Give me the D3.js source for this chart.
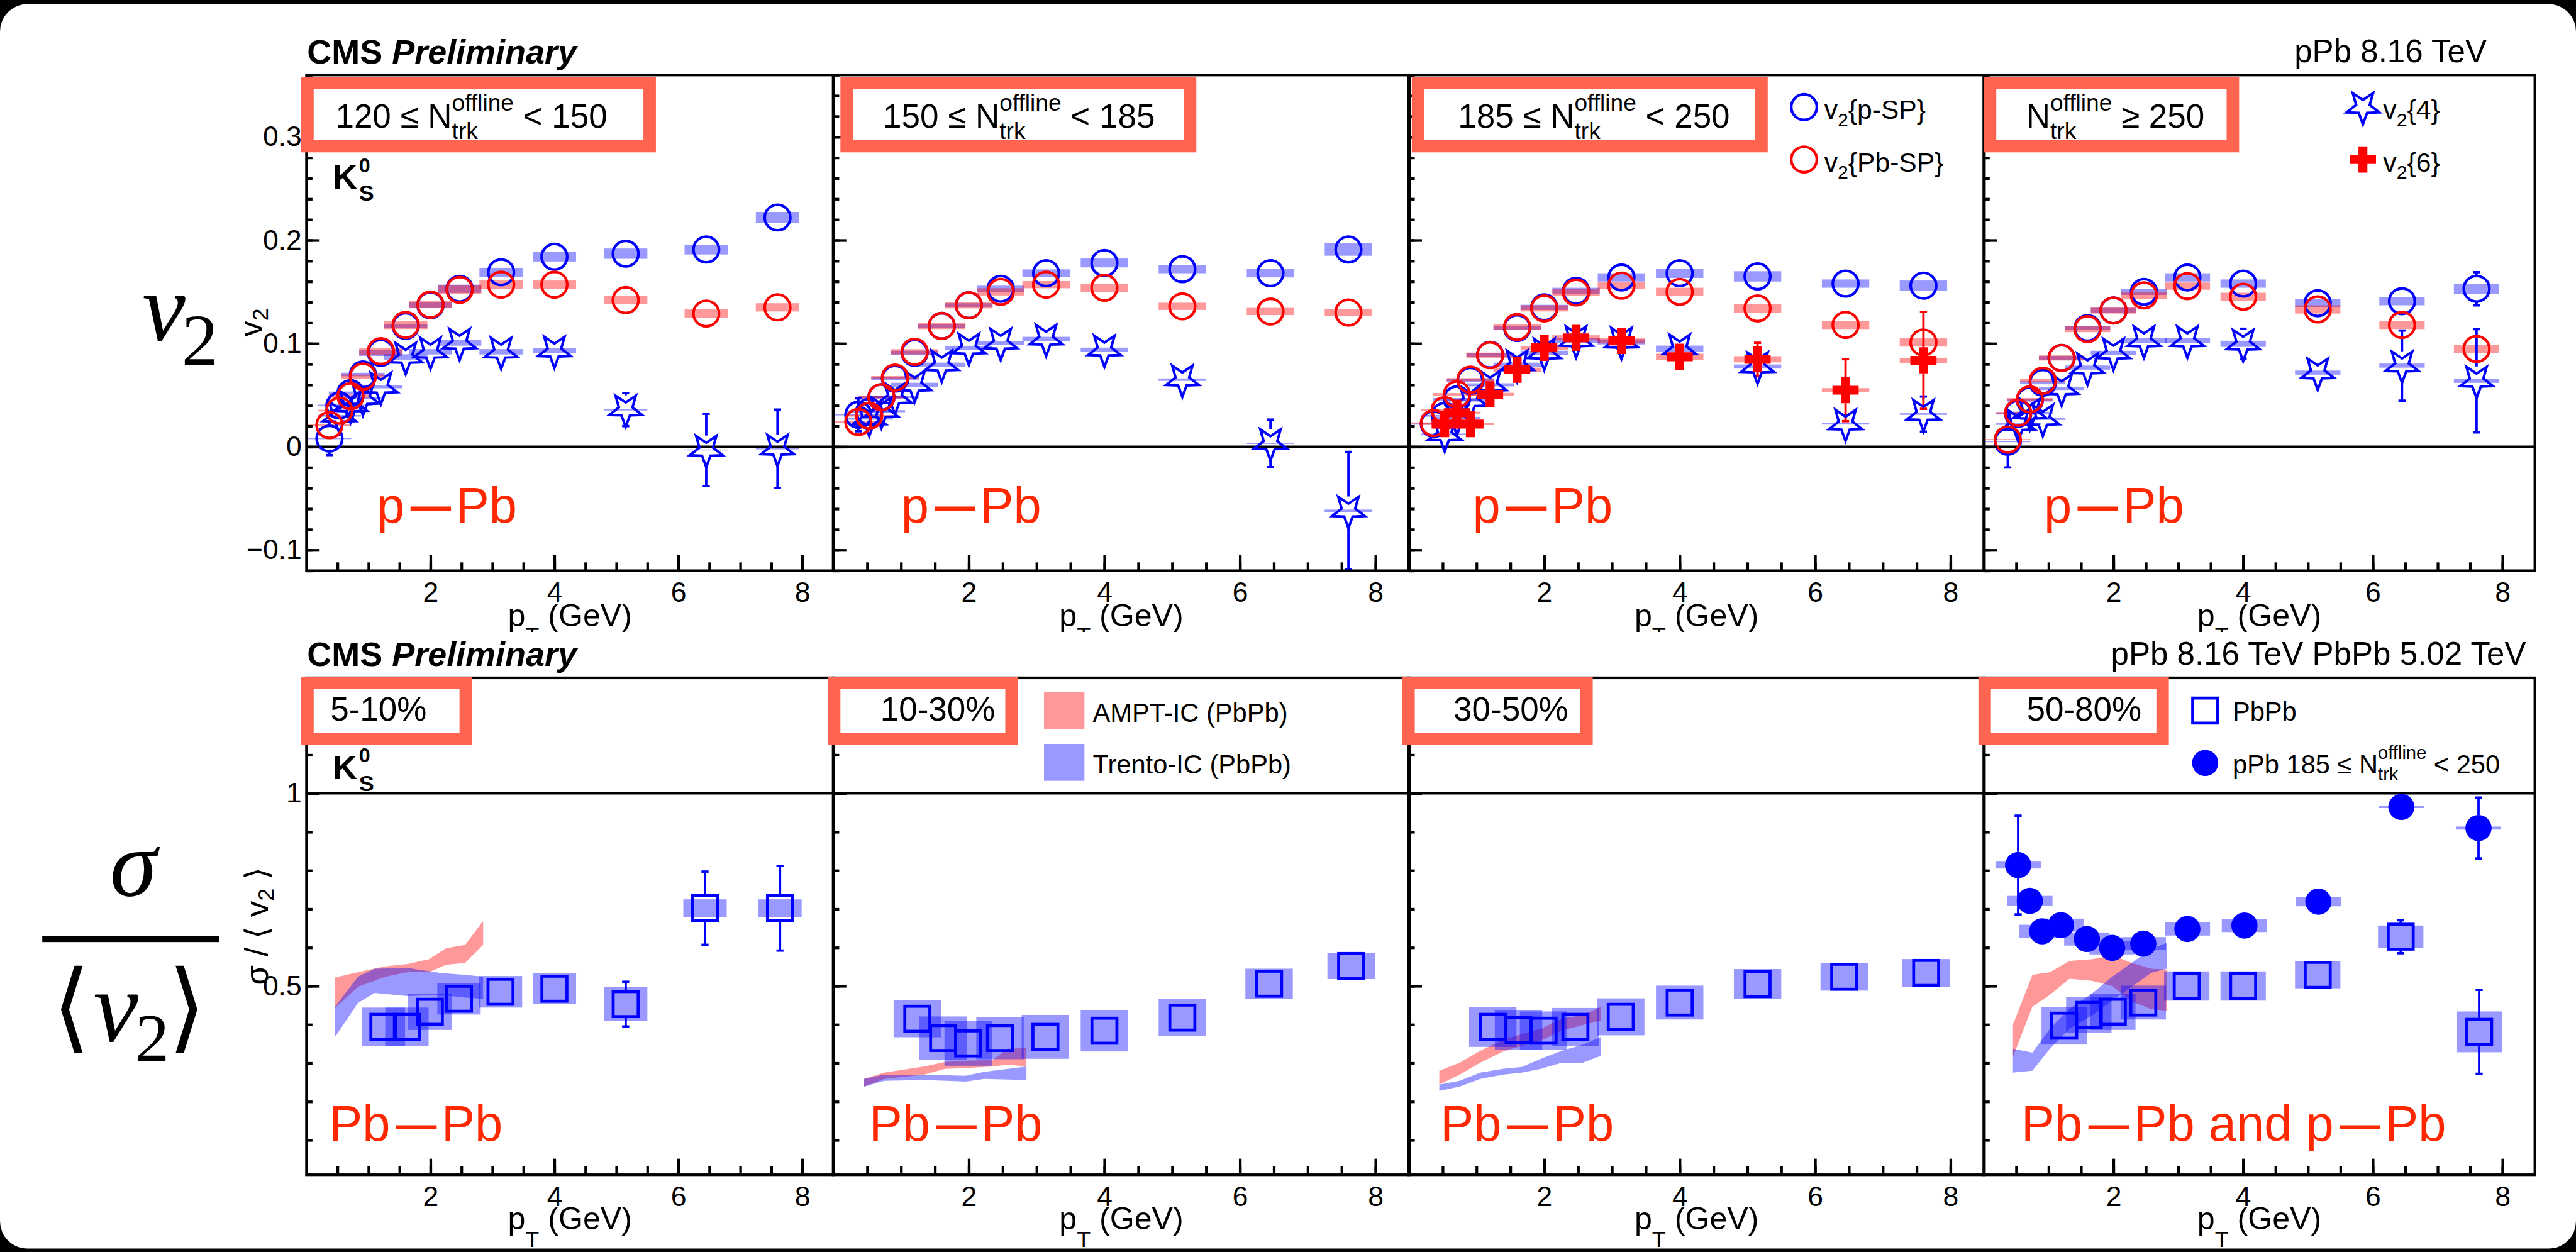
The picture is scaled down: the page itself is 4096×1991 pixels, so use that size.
<!DOCTYPE html>
<html>
<head>
<meta charset="utf-8">
<script src="https://cdn.jsdelivr.net/npm/d3@7"></script>
<style>
  html, body { margin: 0; padding: 0; background: #000; overflow: hidden; }
  svg { display: block; }
  text { white-space: pre; }
</style>
</head>
<body>
<script>
// ---------------- data ----------------
// pT bin centres (GeV), pPb v2 measurements
const ptPPb = [0.37, 0.53, 0.71, 0.91, 1.2, 1.6, 2.0, 2.47, 3.14, 4.0, 5.15, 6.45, 7.6];

// 120 <= Ntrk < 150
const v2pSP_120      = [0.008, 0.040, 0.052, 0.070, 0.091, 0.117, 0.137, 0.153, 0.169, 0.184, 0.187, 0.191, 0.222];
const v2pSP_120_stat = [0.016, 0.004, 0.003, 0.002, 0.002, 0.002, 0.002, 0.002, 0.002, 0.003, 0.004, 0.006, 0.008];
const v2pSP_120_sys  = [0.0006, 0.0008, 0.0015, 0.0017, 0.003, 0.002, 0.0027, 0.004, 0.0043, 0.0046, 0.005, 0.0048, 0.0054];
const v2PbSP_120      = [0.021, 0.035, 0.049, 0.068, 0.0925, 0.118, 0.1376, 0.152, 0.157, 0.157, 0.142, 0.129, 0.135];
const v2PbSP_120_stat = [0.004, 0.003, 0.002, 0.002, 0.002, 0.002, 0.002, 0.002, 0.002, 0.003, 0.004, 0.006, 0.008];
const v2PbSP_120_sys  = [0.0006, 0.0008, 0.0015, 0.002, 0.0033, 0.004, 0.0034, 0.0043, 0.004, 0.004, 0.004, 0.004, 0.004];
const v24_120      = [null, 0.030, 0.040, 0.047, 0.058, 0.087, 0.092, 0.1006, 0.092, 0.093, 0.036, -0.003, -0.002];
const v24_120_stat = [null, 0.004, 0.004, 0.004, 0.004, 0.004, 0.004, 0.005, 0.006, 0.008, 0.016, 0.035, 0.038];
const v24_120_sys  = [null, 0.0008, 0.0008, 0.001, 0.0014, 0.0026, 0.0026, 0.0027, 0.0026, 0.0025, 0.0008, 0.0004, 0.0004];

// 150 <= Ntrk < 185
const v2pSP_150      = [0.031, 0.034, 0.048, 0.066, 0.091, 0.117, 0.137, 0.153, 0.168, 0.178, 0.172, 0.168, 0.191];
const v2pSP_150_stat = [0.016, 0.004, 0.003, 0.002, 0.002, 0.002, 0.002, 0.002, 0.002, 0.003, 0.004, 0.005, 0.007];
const v2pSP_150_sys  = [0.0006, 0.0008, 0.0012, 0.0015, 0.002, 0.002, 0.002, 0.003, 0.0038, 0.0043, 0.004, 0.004, 0.006];
const v2PbSP_150      = [0.024, 0.030, 0.048, 0.067, 0.092, 0.117, 0.137, 0.150, 0.157, 0.154, 0.136, 0.131, 0.130];
const v2PbSP_150_stat = [0.004, 0.003, 0.002, 0.002, 0.002, 0.002, 0.002, 0.002, 0.002, 0.003, 0.004, 0.005, 0.007];
const v2PbSP_150_sys  = [0.0006, 0.0008, 0.0012, 0.0015, 0.0025, 0.003, 0.003, 0.0035, 0.0035, 0.004, 0.0035, 0.0035, 0.0035];
const v24_150      = [null, 0.027, 0.0345, 0.048, 0.060, 0.0795, 0.0958, 0.1006, 0.1045, 0.094, 0.065, 0.0033, -0.062];
const v24_150_stat = [null, 0.004, 0.004, 0.004, 0.004, 0.004, 0.004, 0.005, 0.006, 0.007, 0.005, 0.023, 0.057];
const v24_150_sys  = [null, 0.0008, 0.001, 0.001, 0.002, 0.002, 0.002, 0.002, 0.002, 0.002, 0.0012, 0.0005, 0.0012];

// 185 <= Ntrk < 250
const v2pSP_185      = [0.022, 0.030, 0.046, 0.064, 0.089, 0.115, 0.135, 0.151, 0.164, 0.168, 0.165, 0.158, 0.156];
const v2pSP_185_stat = [0.004, 0.003, 0.002, 0.002, 0.002, 0.002, 0.002, 0.002, 0.002, 0.003, 0.004, 0.005, 0.006];
const v2pSP_185_sys  = [0.0006, 0.0008, 0.0012, 0.0015, 0.002, 0.002, 0.0025, 0.003, 0.004, 0.0045, 0.005, 0.004, 0.005];
const v2PbSP_185      = [0.023, 0.0355, 0.0508, 0.065, 0.0887, 0.116, 0.134, 0.1494, 0.156, 0.150, 0.134, 0.118, 0.101];
const v2PbSP_185_stat = [0.003, 0.003, 0.002, 0.002, 0.002, 0.002, 0.002, 0.002, 0.002, 0.003, 0.004, 0.005, 0.006];
const v2PbSP_185_sys  = [0.0006, 0.0008, 0.0012, 0.0015, 0.0025, 0.003, 0.003, 0.0035, 0.0035, 0.004, 0.004, 0.004, 0.004];
const v24_185      = [null, 0.012, 0.028, 0.045, 0.060, 0.0795, 0.091, 0.103, 0.1016, 0.095, 0.0777, 0.0223, 0.0317];
const v24_185_stat = [null, 0.005, 0.004, 0.004, 0.004, 0.004, 0.004, 0.004, 0.005, 0.006, 0.006, 0.013, 0.017];
const v24_185_sys  = [null, 0.0008, 0.001, 0.0012, 0.0015, 0.002, 0.002, 0.0025, 0.0025, 0.003, 0.002, 0.0008, 0.0008];
const v26_185      = [null, 0.022, 0.033, 0.022, 0.0508, 0.0747, 0.0958, 0.1055, 0.1025, 0.0872, 0.0847, 0.0548, 0.0837];
const v26_185_stat = [null, 0.006, 0.006, 0.006, 0.005, 0.005, 0.005, 0.005, 0.006, 0.008, 0.016, 0.030, 0.047];
const v26_185_sys  = [null, 0.0008, 0.001, 0.001, 0.0015, 0.002, 0.002, 0.0025, 0.0025, 0.003, 0.003, 0.002, 0.0025];

// Ntrk >= 250
const v2pSP_250      = [0.005, 0.032, 0.045, 0.062, 0.086, 0.115, 0.132, 0.150, 0.164, 0.158, 0.139, 0.141, 0.153];
const v2pSP_250_stat = [0.025, 0.004, 0.003, 0.002, 0.002, 0.002, 0.002, 0.002, 0.003, 0.004, 0.005, 0.007, 0.016];
const v2pSP_250_sys  = [0.0005, 0.0008, 0.0012, 0.0015, 0.002, 0.002, 0.0025, 0.003, 0.004, 0.004, 0.004, 0.004, 0.005];
const v2PbSP_250      = [0.007, 0.033, 0.046, 0.064, 0.086, 0.114, 0.132, 0.1466, 0.1556, 0.1452, 0.133, 0.118, 0.0947];
const v2PbSP_250_stat = [0.004, 0.003, 0.002, 0.002, 0.002, 0.002, 0.002, 0.002, 0.003, 0.004, 0.005, 0.007, 0.009];
const v2PbSP_250_sys  = [0.0005, 0.0008, 0.0012, 0.0015, 0.0025, 0.003, 0.003, 0.0035, 0.0035, 0.004, 0.004, 0.004, 0.004];
const v24_250      = [null, 0.022, 0.033, 0.027, 0.0565, 0.0767, 0.091, 0.1029, 0.1029, 0.0997, 0.0718, 0.0786, 0.0639];
const v24_250_stat = [null, 0.010, 0.006, 0.006, 0.005, 0.005, 0.005, 0.006, 0.008, 0.0146, 0.014, 0.034, 0.050];
const v24_250_sys  = [null, 0.0008, 0.001, 0.001, 0.0015, 0.002, 0.002, 0.0025, 0.0025, 0.003, 0.002, 0.002, 0.002];

// PbPb sigma/<v2> vs pT
const ptPbPb = [1.24, 1.62, 1.99, 2.46, 3.13, 4.0, 5.15, 6.43, 7.64];
const ratio_5_10       = [0.394, 0.394, 0.433, 0.467, 0.485, 0.493, 0.453, 0.702, 0.702];
const ratio_5_10_stat  = [0.010, 0.010, 0.010, 0.010, 0.010, 0.010, 0.058, 0.095, 0.110];
const ratio_5_10_sys   = [0.050, 0.050, 0.047, 0.041, 0.041, 0.040, 0.044, 0.023, 0.023];
const ratio_10_30      = [0.415, 0.365, 0.351, 0.365, 0.368, 0.384, 0.418, 0.506, 0.552];
const ratio_10_30_stat = [0.008, 0.008, 0.008, 0.008, 0.008, 0.008, 0.010, 0.010, 0.012];
const ratio_10_30_sys  = [0.048, 0.056, 0.058, 0.055, 0.057, 0.054, 0.048, 0.039, 0.034];
const ratio_30_50      = [0.394, 0.386, 0.384, 0.394, 0.420, 0.457, 0.505, 0.524, 0.534];
const ratio_30_50_stat = [0.008, 0.008, 0.008, 0.008, 0.008, 0.008, 0.008, 0.010, 0.012];
const ratio_30_50_sys  = [0.052, 0.052, 0.050, 0.049, 0.048, 0.044, 0.039, 0.036, 0.036];
const ratio_50_80      = [0.397, 0.425, 0.433, 0.457, 0.500, 0.500, 0.529, 0.628, 0.381];
const ratio_50_80_stat = [0.010, 0.010, 0.010, 0.010, 0.010, 0.010, 0.012, 0.043, 0.109];
const ratio_50_80_sys  = [0.049, 0.047, 0.047, 0.044, 0.038, 0.038, 0.035, 0.029, 0.053];

// pPb 185 <= Ntrk < 250 sigma/<v2>
const ptPPbRatio = [0.53, 0.71, 0.9, 1.19, 1.59, 1.98, 2.46, 3.14, 4.02, 5.16, 6.44, 7.63];
const ratio_pPb      = [0.814, 0.721, 0.642, 0.658, 0.622, 0.599, 0.610, 0.648, 0.657, 0.719, 0.965, 0.910];
const ratio_pPb_stat = [0.128, 0.025, 0.010, 0.010, 0.010, 0.010, 0.010, 0.010, 0.010, 0.028, 0.010, 0.079];
const ratio_pPb_sys  = [0.009, 0.013, 0.017, 0.017, 0.017, 0.017, 0.017, 0.017, 0.017, 0.012, 0.003, 0.004];

// Model bands (lower / upper edge)
const amptPt_5_10 = [0.46, 0.83, 1.27, 1.63, 1.98, 2.25, 2.56, 2.85];
const amptLo_5_10 = [0.443, 0.498, 0.524, 0.536, 0.536, 0.555, 0.560, 0.607];
const amptHi_5_10 = [0.522, 0.536, 0.551, 0.557, 0.570, 0.598, 0.607, 0.669];
const trentoPt_5_10 = [0.46, 0.83, 1.1, 1.63, 2.16, 2.56, 2.85];
const trentoLo_5_10 = [0.368, 0.456, 0.482, 0.474, 0.477, 0.470, 0.467];
const trentoHi_5_10 = [0.446, 0.524, 0.545, 0.547, 0.534, 0.529, 0.524];

const amptPt_10_30 = [0.455, 0.75, 1.34, 1.65, 1.95, 2.35, 2.57, 2.85];
const amptLo_10_30 = [0.239, 0.259, 0.270, 0.285, 0.287, 0.291, 0.296, 0.291];
const amptHi_10_30 = [0.259, 0.275, 0.291, 0.303, 0.306, 0.308, 0.337, 0.339];
const trentoPt_10_30 = [0.455, 0.75, 1.34, 1.95, 2.23, 2.85];
const trentoLo_10_30 = [0.239, 0.254, 0.256, 0.252, 0.259, 0.256];
const trentoHi_10_30 = [0.259, 0.270, 0.270, 0.267, 0.277, 0.291];

const amptPt_30_50 = [0.45, 0.75, 1.055, 1.39, 1.67, 1.95, 2.26, 2.57, 2.84];
const amptLo_30_50 = [0.244, 0.270, 0.301, 0.330, 0.345, 0.358, 0.384, 0.399, 0.410];
const amptHi_30_50 = [0.280, 0.301, 0.332, 0.360, 0.375, 0.389, 0.415, 0.425, 0.446];
const trentoPt_30_50 = [0.45, 0.75, 1.055, 1.39, 1.67, 1.95, 2.26, 2.57, 2.84];
const trentoLo_30_50 = [0.228, 0.239, 0.259, 0.270, 0.275, 0.285, 0.301, 0.301, 0.319];
const trentoHi_30_50 = [0.244, 0.254, 0.275, 0.285, 0.290, 0.311, 0.332, 0.348, 0.368];

const amptPt_50_80 = [0.45, 0.75, 1.02, 1.32, 1.68, 1.98, 2.28, 2.58, 2.82];
const amptLo_50_80 = [0.316, 0.446, 0.477, 0.519, 0.513, 0.500, 0.460, 0.440, 0.436];
const amptHi_50_80 = [0.400, 0.529, 0.536, 0.565, 0.570, 0.580, 0.560, 0.545, 0.543];
const trentoPt_50_80 = [0.45, 0.75, 1.02, 1.32, 1.68, 1.98, 2.28, 2.58, 2.82];
const trentoLo_50_80 = [0.275, 0.280, 0.337, 0.389, 0.425, 0.462, 0.498, 0.534, 0.545];
const trentoHi_50_80 = [0.337, 0.327, 0.389, 0.440, 0.482, 0.524, 0.560, 0.596, 0.612];

// tick values / labels
const xMajorTicks = [2, 4, 6, 8];
const yTopMajorTicks = [-0.1, 0, 0.1, 0.2, 0.3];
const yBotMajorTicks = [0.5, 1];
const topBoxLabels = [["120 ≤ N", " < 150"], ["150 ≤ N", " < 185"], ["185 ≤ N", " < 250"], ["N", " ≥ 250"]];
const centralityLabels = ["5-10%", "10-30%", "30-50%", "50-80%"];
const systemLabelsTop = ["p—Pb", "p—Pb", "p—Pb", "p—Pb"];
const systemLabelsBot = ["Pb—Pb", "Pb—Pb", "Pb—Pb", "Pb—Pb and p—Pb"];

// ---------------- drawing ----------------
const W = 4328, H = 2104, K = 4096 / 4328;
const SANS = "'Liberation Sans', Arial, Helvetica, sans-serif";
const SERIF = "'Liberation Serif', 'Times New Roman', serif";
const BLUE = "#0000ff", RED = "#ff0000";
const BLUE_BOX = "rgba(0,0,255,0.4)", RED_BOX = "rgba(255,0,0,0.4)";
const FRAME_RED = "#ff6450", LABEL_RED = "#ff2800";

const svg = d3.select("body").append("svg").attr("width", 4096).attr("height", 1991);
const defs = svg.append("defs");
const root = svg.append("g").attr("transform", `scale(${K})`).attr("font-family", SANS);

root.append("rect").attr("width", W).attr("height", H).attr("fill", "#000");
root.append("rect").attr("x", 0).attr("y", 7).attr("width", W).attr("height", 2091).attr("rx", 46).attr("fill", "#fff");

const cols = [[515, 1400], [1400, 2368], [2367, 3334], [3333, 4259]];
const TOP = { y0: 126, y1: 959, dom: [-0.12, 0.36] };
const BOT = { y0: 1139, y1: 1974, dom: [0.01, 1.3] };

// top row is clipped just under its axis titles (lower pad covers it)
defs.append("clipPath").attr("id", "topRowClip").append("rect").attr("x", 0).attr("y", 0).attr("width", W).attr("height", 1062);
const topRow = root.append("g").attr("clip-path", "url(#topRowClip)");
const botRow = root.append("g");

function starPath(R, r) {
  const p = [];
  for (let k = 0; k < 10; k++) {
    const a = Math.PI / 2 + k * Math.PI / 5, rad = k % 2 === 0 ? R : r;
    p.push([rad * Math.cos(a), rad * Math.sin(a)]);
  }
  return "M" + p.map(d => d[0].toFixed(2) + "," + d[1].toFixed(2)).join("L") + "Z";
}
function crossPath(a, b) {
  const p = [[-b,-a],[b,-a],[b,-b],[a,-b],[a,b],[b,b],[b,a],[-b,a],[-b,b],[-a,b],[-a,-b],[-b,-b]];
  return "M" + p.map(d => d.join(",")).join("L") + "Z";
}
const STAR = starPath(29, 12);
const CROSS = crossPath(22, 7.5);

function marker(g, type, cx, cy, color) {
  if (type === "circle") g.append("circle").attr("cx", cx).attr("cy", cy).attr("r", 21.5).attr("fill", "none").attr("stroke", color).attr("stroke-width", 4.5);
  else if (type === "dot") g.append("circle").attr("cx", cx).attr("cy", cy).attr("r", 22).attr("fill", color);
  else if (type === "star") g.append("path").attr("d", STAR).attr("transform", `translate(${cx},${cy})`).attr("fill", "none").attr("stroke", color).attr("stroke-width", 4.2).attr("stroke-linejoin", "miter");
  else if (type === "cross") g.append("path").attr("d", CROSS).attr("transform", `translate(${cx},${cy})`).attr("fill", color);
  else if (type === "square") g.append("rect").attr("x", cx - 21).attr("y", cy - 21).attr("width", 42).attr("height", 42).attr("fill", "none").attr("stroke", color).attr("stroke-width", 5);
}
const HALF = { circle: 23, dot: 22, star: 24, cross: 22, square: 23 };

function makeRows(pts, vals, stat, sys) {
  return pts.map((p, i) => ({ pt: p, v: vals[i], e: stat[i], s: sys[i] })).filter(d => d.v !== null);
}
function sysBoxes(g, x, y, rows, fill) {
  g.selectAll(null).data(rows).join("rect")
    .attr("x", d => x(d.pt - 0.35)).attr("width", d => x(d.pt + 0.35) - x(d.pt - 0.35))
    .attr("y", d => y(d.v + d.s)).attr("height", d => Math.max(1.5, y(d.v - d.s) - y(d.v + d.s)))
    .attr("fill", fill);
}
function errBars(g, x, y, rows, color, half) {
  rows.forEach(d => {
    const cx = x(d.pt), cy = y(d.v), top = y(d.v + d.e), bot = y(d.v - d.e);
    if (cy - top > half + 1) {
      g.append("line").attr("x1", cx).attr("x2", cx).attr("y1", cy - half).attr("y2", top).attr("stroke", color).attr("stroke-width", 4);
      g.append("line").attr("x1", cx - 6).attr("x2", cx + 6).attr("y1", top).attr("y2", top).attr("stroke", color).attr("stroke-width", 4);
      g.append("line").attr("x1", cx).attr("x2", cx).attr("y1", cy + half).attr("y2", bot).attr("stroke", color).attr("stroke-width", 4);
      g.append("line").attr("x1", cx - 6).attr("x2", cx + 6).attr("y1", bot).attr("y2", bot).attr("stroke", color).attr("stroke-width", 4);
    }
  });
}
function markers(g, x, y, rows, type, color) {
  rows.forEach(d => marker(g, type, x(d.pt), y(d.v), color));
}

function axes(g, x, y, yMajor, yMinor, yFmt, showYLabels, row) {
  const x0 = x.range()[0], x1 = x.range()[1];
  const yb = y.range()[0];
  const styl = sel => {
    sel.select(".domain").remove();
    sel.selectAll("line").attr("stroke", "#000").attr("stroke-width", 4.5);
    sel.attr("font-size", 47).attr("font-family", SANS);
  };
  g.append("g").attr("transform", `translate(${x0},0)`)
    .call(d3.axisLeft(y).tickValues(yMinor).tickSize(-10).tickFormat("")).call(styl);
  g.append("g").attr("transform", `translate(${x0},0)`)
    .call(d3.axisLeft(y).tickValues(yMajor).tickSize(-22).tickPadding(8).tickFormat(showYLabels ? yFmt : "")).call(styl);
  g.append("g").attr("transform", `translate(0,${yb})`)
    .call(d3.axisBottom(x).tickValues(d3.range(1, 17).map(i => i * 0.5)).tickSize(-14).tickFormat("")).call(styl);
  g.append("g").attr("transform", `translate(0,${yb})`)
    .call(d3.axisBottom(x).tickValues(xMajorTicks).tickSize(-27).tickPadding(19).tickFormat(d3.format("d"))).call(styl);
  g.append("rect").attr("x", x0).attr("y", y.range()[1]).attr("width", x1 - x0).attr("height", yb - y.range()[1])
    .attr("fill", "none").attr("stroke", "#000").attr("stroke-width", 4.5);
  // pT axis title
  const t = g.append("text").attr("x", (x0 + x1) / 2).attr("y", row === "top" ? 1052 : 2066)
    .attr("text-anchor", "middle").attr("font-size", 53);
  t.append("tspan").text("p");
  t.append("tspan").attr("font-size", 38).attr("dy", 29).text("T");
  t.append("tspan").attr("dy", -29).text(" (GeV)");
}

function nTrkText(parent, x, baseline, pre, post, size, anchor, supOff, subOff) {
  const g = parent.append("g");
  let w = 0;
  const t1 = g.append("text").attr("x", 0).attr("y", 0).attr("font-size", size).text(pre);
  w = t1.node().getComputedTextLength();
  const ss = size * 0.7;
  const sup = g.append("text").attr("x", w).attr("y", -supOff * size).attr("font-size", ss).text("offline");
  const sub = g.append("text").attr("x", w).attr("y", subOff * size).attr("font-size", ss).text("trk");
  w += Math.max(sup.node().getComputedTextLength(), sub.node().getComputedTextLength());
  const t2 = g.append("text").attr("x", w).attr("y", 0).attr("font-size", size).text(post);
  w += t2.node().getComputedTextLength();
  g.attr("transform", `translate(${anchor === "middle" ? x - w / 2 : x},${baseline})`);
}

// collision-system label: red words with a long heavy dash between the nuclei
function systemLabel(parent, x, baseline, label, size) {
  const t = parent.append("text").attr("x", x).attr("y", baseline).attr("fill", LABEL_RED).attr("font-size", size);
  label.split("—").forEach((p, i) => {
    if (i > 0) {
      t.append("tspan").attr("dx", 10).attr("dy", -5).attr("font-size", 68).attr("font-weight", "bold").text("—");
      t.append("tspan").attr("dx", 8).attr("dy", 5).text(p);
    } else {
      t.append("tspan").text(p);
    }
  });
}

function labelBox(g, outer) {
  const [x0, y0, x1, y1] = outer, sw = 21;
  g.append("rect").attr("x", x0 + sw / 2).attr("y", y0 + sw / 2).attr("width", x1 - x0 - sw).attr("height", y1 - y0 - sw)
    .attr("fill", "#fff").attr("stroke", FRAME_RED).attr("stroke-width", sw);
}

function kshort(g, x, baseline) {
  const t = g.append("g").attr("font-weight", "bold");
  t.append("text").attr("x", x).attr("y", baseline).attr("font-size", 57).text("K");
  t.append("text").attr("x", x + 44).attr("y", baseline - 28).attr("font-size", 34).text("0");
  t.append("text").attr("x", x + 44).attr("y", baseline + 20).attr("font-size", 38).text("S");
}

function cmsLabel(g, x, baseline) {
  const t = g.append("text").attr("x", x).attr("y", baseline).attr("font-size", 57).attr("font-weight", "bold");
  t.append("tspan").text("CMS ");
  t.append("tspan").attr("font-style", "italic").text("Preliminary");
}

function bandArea(x, y) {
  return d3.area().x(d => x(d.pt)).y0(d => y(d.lo)).y1(d => y(d.hi));
}
function bandRows(pt, lo, hi) { return pt.map((p, i) => ({ pt: p, lo: lo[i], hi: hi[i] })); }

// ---------------- top row: v2 ----------------
const topSeries = [
  { pSP: [v2pSP_120, v2pSP_120_stat, v2pSP_120_sys], PbSP: [v2PbSP_120, v2PbSP_120_stat, v2PbSP_120_sys], c4: [v24_120, v24_120_stat, v24_120_sys] },
  { pSP: [v2pSP_150, v2pSP_150_stat, v2pSP_150_sys], PbSP: [v2PbSP_150, v2PbSP_150_stat, v2PbSP_150_sys], c4: [v24_150, v24_150_stat, v24_150_sys] },
  { pSP: [v2pSP_185, v2pSP_185_stat, v2pSP_185_sys], PbSP: [v2PbSP_185, v2PbSP_185_stat, v2PbSP_185_sys], c4: [v24_185, v24_185_stat, v24_185_sys], c6: [v26_185, v26_185_stat, v26_185_sys] },
  { pSP: [v2pSP_250, v2pSP_250_stat, v2pSP_250_sys], PbSP: [v2PbSP_250, v2PbSP_250_stat, v2PbSP_250_sys], c4: [v24_250, v24_250_stat, v24_250_sys] }
];
const topBoxOuter = [[506, 129, 1102, 256], [1412, 129, 2010, 256], [2372, 129, 2970, 256], [3333, 129, 3762, 256]];
const topBoxTextCx = [792, 1712, 2678, 3554];
const sysLabelX_top = [633, 1514, 2474, 3434];

const yTopFmt = d => d === 0 ? "0" : d3.format(".1f")(d);

cols.forEach((c, i) => {
  const x = d3.scaleLinear([0, 8.5], c);
  const y = d3.scaleLinear(TOP.dom, [TOP.y1, TOP.y0]);
  const g = topRow.append("g");
  const clipId = "topClip" + i;
  defs.append("clipPath").attr("id", clipId).append("rect").attr("x", c[0]).attr("y", TOP.y0).attr("width", c[1] - c[0]).attr("height", TOP.y1 - TOP.y0);
  const dg = g.append("g").attr("clip-path", `url(#${clipId})`);

  const s = topSeries[i];
  const rp = makeRows(ptPPb, ...s.pSP), rb = makeRows(ptPPb, ...s.PbSP), r4 = makeRows(ptPPb, ...s.c4);
  const r6 = s.c6 ? makeRows(ptPPb, ...s.c6) : [];

  dg.append("line").attr("x1", c[0]).attr("x2", c[1]).attr("y1", y(0)).attr("y2", y(0)).attr("stroke", "#000").attr("stroke-width", 4.5);

  sysBoxes(dg, x, y, rp, BLUE_BOX);
  sysBoxes(dg, x, y, r4, BLUE_BOX);
  sysBoxes(dg, x, y, rb, RED_BOX);
  sysBoxes(dg, x, y, r6, RED_BOX);
  errBars(dg, x, y, r4, BLUE, HALF.star);
  errBars(dg, x, y, rp, BLUE, HALF.circle);
  errBars(dg, x, y, rb, RED, HALF.circle);
  errBars(dg, x, y, r6, RED, HALF.cross);
  markers(dg, x, y, r4, "star", BLUE);
  markers(dg, x, y, rp, "circle", BLUE);
  markers(dg, x, y, rb, "circle", RED);
  markers(dg, x, y, r6, "cross", RED);

  axes(g, x, y, yTopMajorTicks, d3.range(-6, 19).map(k => k * 0.02), yTopFmt, i === 0, "top");

  labelBox(g, topBoxOuter[i]);
  nTrkText(g, topBoxTextCx[i], 215, topBoxLabels[i][0], topBoxLabels[i][1], 56, "middle", 0.52, 0.33);

  systemLabel(g, sysLabelX_top[i], 878, systemLabelsTop[i], 84);
});

kshort(topRow, 559, 317);
cmsLabel(topRow, 516, 107);
topRow.append("text").attr("x", 4178).attr("y", 105).attr("text-anchor", "end").attr("font-size", 54).text("pPb 8.16 TeV");

// y-axis title of the top row
{
  const t = topRow.append("text").attr("transform", "translate(440,542) rotate(-90)").attr("text-anchor", "middle").attr("font-size", 54);
  t.append("tspan").text("v");
  t.append("tspan").attr("font-size", 38).attr("dy", 10).text("2");
}
// large v2 label
topRow.append("text").attr("x", 239).attr("y", 572).attr("font-family", SERIF).attr("font-style", "italic").attr("font-size", 163).text("v");
topRow.append("text").attr("x", 305).attr("y", 613).attr("font-family", SERIF).attr("font-size", 123).text("2");

// legends of the top row
{
  const lg = topRow.append("g").attr("font-size", 45);
  const entry = (mx, my, type, color, rest) => {
    marker(lg, type, mx, my, color);
    const t = lg.append("text").attr("x", mx + 34).attr("y", my + 20);
    t.append("tspan").text("v");
    t.append("tspan").attr("font-size", 32).attr("dy", 12).text("2");
    t.append("tspan").attr("dy", -12).text(rest);
  };
  entry(3031, 180, "circle", BLUE, "{p-SP}");
  entry(3031, 268, "circle", RED, "{Pb-SP}");
  entry(3970, 180, "star", BLUE, "{4}");
  entry(3970, 268, "cross", RED, "{6}");
}

// ---------------- bottom row: sigma / <v2> ----------------
const botSeries = [
  [ratio_5_10, ratio_5_10_stat, ratio_5_10_sys],
  [ratio_10_30, ratio_10_30_stat, ratio_10_30_sys],
  [ratio_30_50, ratio_30_50_stat, ratio_30_50_sys],
  [ratio_50_80, ratio_50_80_stat, ratio_50_80_sys]
];
const amptBands = [
  [amptPt_5_10, amptLo_5_10, amptHi_5_10], [amptPt_10_30, amptLo_10_30, amptHi_10_30],
  [amptPt_30_50, amptLo_30_50, amptHi_30_50], [amptPt_50_80, amptLo_50_80, amptHi_50_80]
];
const trentoBands = [
  [trentoPt_5_10, trentoLo_5_10, trentoHi_5_10], [trentoPt_10_30, trentoLo_10_30, trentoHi_10_30],
  [trentoPt_30_50, trentoLo_30_50, trentoHi_30_50], [trentoPt_50_80, trentoLo_50_80, trentoHi_50_80]
];
const botBoxOuter = [[506, 1137, 793, 1252], [1391, 1137, 1710, 1252], [2356, 1137, 2676, 1252], [3324, 1137, 3644, 1252]];
const botBoxTextX = [555, 1479, 2442, 3405];
const sysLabelX_bot = [553, 1460, 2420, 3396];

cols.forEach((c, i) => {
  const x = d3.scaleLinear([0, 8.5], c);
  const y = d3.scaleLinear(BOT.dom, [BOT.y1, BOT.y0]);
  const g = botRow.append("g");
  const clipId = "botClip" + i;
  defs.append("clipPath").attr("id", clipId).append("rect").attr("x", c[0]).attr("y", BOT.y0).attr("width", c[1] - c[0]).attr("height", BOT.y1 - BOT.y0);
  const dg = g.append("g").attr("clip-path", `url(#${clipId})`);

  dg.append("line").attr("x1", c[0]).attr("x2", c[1]).attr("y1", y(1)).attr("y2", y(1)).attr("stroke", "#000").attr("stroke-width", 4);

  const area = bandArea(x, y);
  dg.append("path").attr("d", area(bandRows(...amptBands[i]))).attr("fill", RED_BOX);
  dg.append("path").attr("d", area(bandRows(...trentoBands[i]))).attr("fill", BLUE_BOX);

  const rq = makeRows(ptPbPb, ...botSeries[i]);
  const rd = i === 3 ? makeRows(ptPPbRatio, ratio_pPb, ratio_pPb_stat, ratio_pPb_sys) : [];
  sysBoxes(dg, x, y, rq, BLUE_BOX);
  sysBoxes(dg, x, y, rd, BLUE_BOX);
  errBars(dg, x, y, rq, BLUE, HALF.square);
  errBars(dg, x, y, rd, BLUE, HALF.dot);
  markers(dg, x, y, rq, "square", BLUE);
  markers(dg, x, y, rd, "dot", BLUE);

  axes(g, x, y, yBotMajorTicks, d3.range(1, 13).map(k => k * 0.1), d => d3.format("")(d), i === 0, "bot");

  labelBox(g, botBoxOuter[i]);
  g.append("text").attr("x", botBoxTextX[i]).attr("y", 1211).attr("font-size", 56).text(centralityLabels[i]);

  systemLabel(g, sysLabelX_bot[i], 1917, systemLabelsBot[i], 84);
});

kshort(botRow, 559, 1309);
cmsLabel(botRow, 516, 1119);
botRow.append("text").attr("x", 4244).attr("y", 1117).attr("text-anchor", "end").attr("font-size", 54).text("pPb 8.16 TeV PbPb 5.02 TeV");

// y-axis title of the bottom row
{
  const t = botRow.append("text").attr("transform", "translate(450,1556) rotate(-90)").attr("text-anchor", "middle").attr("font-size", 54);
  t.append("tspan").text("σ / ⟨ v");
  t.append("tspan").attr("font-size", 38).attr("dy", 10).text("2");
  t.append("tspan").attr("dy", -10).text(" ⟩");
}
// large sigma / <v2> label
botRow.append("text").attr("x", 224).attr("y", 1506).attr("text-anchor", "middle").attr("font-family", SERIF).attr("font-style", "italic").attr("font-size", 160).text("σ");
botRow.append("rect").attr("x", 71).attr("y", 1573).attr("width", 297).attr("height", 10).attr("fill", "#000");
botRow.append("text").attr("x", 120).attr("y", 1748).attr("text-anchor", "middle").attr("font-family", "'DejaVu Serif', serif").attr("font-size", 165).text("⟨");
botRow.append("text").attr("x", 157).attr("y", 1749).attr("font-family", SERIF).attr("font-style", "italic").attr("font-size", 170).text("v");
botRow.append("text").attr("x", 227).attr("y", 1783).attr("font-family", SERIF).attr("font-size", 115).text("2");
botRow.append("text").attr("x", 314).attr("y", 1748).attr("text-anchor", "middle").attr("font-family", "'DejaVu Serif', serif").attr("font-size", 165).text("⟩");

// legends of the bottom row
{
  const lg = botRow.append("g").attr("font-size", 44);
  lg.append("rect").attr("x", 1754).attr("y", 1163).attr("width", 68).attr("height", 62).attr("fill", RED_BOX);
  lg.append("text").attr("x", 1836).attr("y", 1213).text("AMPT-IC (PbPb)");
  lg.append("rect").attr("x", 1754).attr("y", 1250).attr("width", 68).attr("height", 62).attr("fill", BLUE_BOX);
  lg.append("text").attr("x", 1836).attr("y", 1300).text("Trento-IC (PbPb)");
  marker(lg, "square", 3705, 1194, BLUE);
  lg.append("text").attr("x", 3751).attr("y", 1211).text("PbPb");
  marker(lg, "dot", 3705, 1282, BLUE);
  nTrkText(lg, 3751, 1300, "pPb 185 ≤ N", " < 250", 44, "start", 0.55, 0.25);
}
</script>
</body>
</html>
